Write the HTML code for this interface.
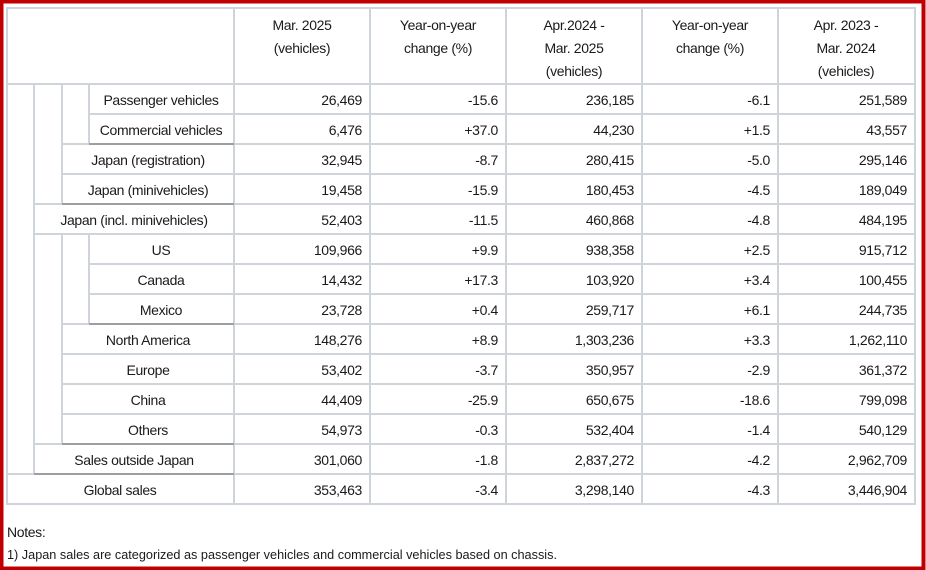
<!DOCTYPE html>
<html><head><meta charset="utf-8"><style>
html,body{margin:0;padding:0;background:#fff}
svg{display:block}
text{font-family:"Liberation Sans",Arial,sans-serif;fill:#1a1a1a;font-size:14px;letter-spacing:-0.35px}
</style></head><body>
<svg width="926" height="570" viewBox="0 0 926 570" xmlns="http://www.w3.org/2000/svg">
<rect x="0" y="0" width="926" height="570" fill="#fff"/>
<g stroke="#cfd3da" stroke-width="2" fill="none">
<rect x="7" y="8" width="908" height="496"/>
<line x1="7" y1="84" x2="915" y2="84"/>
<line x1="234" y1="8" x2="234" y2="504"/>
<line x1="370" y1="8" x2="370" y2="504"/>
<line x1="506" y1="8" x2="506" y2="504"/>
<line x1="642" y1="8" x2="642" y2="504"/>
<line x1="778" y1="8" x2="778" y2="504"/>
<line x1="34" y1="84" x2="34" y2="474"/>
<line x1="62" y1="84" x2="62" y2="204"/>
<line x1="62" y1="234" x2="62" y2="444"/>
<line x1="89" y1="84" x2="89" y2="144"/>
<line x1="89" y1="234" x2="89" y2="324"/>
<line x1="89" y1="114" x2="915" y2="114"/>
<line x1="62" y1="144" x2="915" y2="144"/>
<line x1="62" y1="174" x2="915" y2="174"/>
<line x1="34" y1="204" x2="915" y2="204"/>
<line x1="34" y1="234" x2="915" y2="234"/>
<line x1="89" y1="264" x2="915" y2="264"/>
<line x1="89" y1="294" x2="915" y2="294"/>
<line x1="62" y1="324" x2="915" y2="324"/>
<line x1="62" y1="354" x2="915" y2="354"/>
<line x1="62" y1="384" x2="915" y2="384"/>
<line x1="62" y1="414" x2="915" y2="414"/>
<line x1="34" y1="444" x2="915" y2="444"/>
<line x1="7" y1="474" x2="915" y2="474"/>
</g>
<g stroke="#8c8c8c" stroke-width="1.5">
<line x1="89" y1="144" x2="234" y2="144"/>
<line x1="62" y1="204" x2="234" y2="204"/>
<line x1="89" y1="324" x2="234" y2="324"/>
<line x1="62" y1="444" x2="234" y2="444"/>
<line x1="34" y1="474" x2="234" y2="474"/>
</g>
<g text-anchor="middle">
<text x="302" y="30">Mar. 2025</text><text x="302" y="53">(vehicles)</text>
<text x="438" y="30">Year-on-year</text><text x="438" y="53">change (%)</text>
<text x="574" y="30">Apr.2024 -</text><text x="574" y="53">Mar. 2025</text><text x="574" y="76">(vehicles)</text>
<text x="710" y="30">Year-on-year</text><text x="710" y="53">change (%)</text>
<text x="846" y="30">Apr. 2023 -</text><text x="846" y="53">Mar. 2024</text><text x="846" y="76">(vehicles)</text>
<text x="161" y="105">Passenger vehicles</text>
<text x="161" y="135">Commercial vehicles</text>
<text x="148" y="165">Japan (registration)</text>
<text x="148" y="195">Japan (minivehicles)</text>
<text x="134" y="225">Japan (incl. minivehicles)</text>
<text x="161" y="255">US</text>
<text x="161" y="285">Canada</text>
<text x="161" y="315">Mexico</text>
<text x="148" y="345">North America</text>
<text x="148" y="375">Europe</text>
<text x="148" y="405">China</text>
<text x="148" y="435">Others</text>
<text x="134" y="465">Sales outside Japan</text>
<text x="120" y="495">Global sales</text>
</g>
<g text-anchor="end">
<text x="362" y="105">26,469</text><text x="498" y="105">-15.6</text><text x="634" y="105">236,185</text><text x="770" y="105">-6.1</text><text x="907" y="105">251,589</text>
<text x="362" y="135">6,476</text><text x="498" y="135">+37.0</text><text x="634" y="135">44,230</text><text x="770" y="135">+1.5</text><text x="907" y="135">43,557</text>
<text x="362" y="165">32,945</text><text x="498" y="165">-8.7</text><text x="634" y="165">280,415</text><text x="770" y="165">-5.0</text><text x="907" y="165">295,146</text>
<text x="362" y="195">19,458</text><text x="498" y="195">-15.9</text><text x="634" y="195">180,453</text><text x="770" y="195">-4.5</text><text x="907" y="195">189,049</text>
<text x="362" y="225">52,403</text><text x="498" y="225">-11.5</text><text x="634" y="225">460,868</text><text x="770" y="225">-4.8</text><text x="907" y="225">484,195</text>
<text x="362" y="255">109,966</text><text x="498" y="255">+9.9</text><text x="634" y="255">938,358</text><text x="770" y="255">+2.5</text><text x="907" y="255">915,712</text>
<text x="362" y="285">14,432</text><text x="498" y="285">+17.3</text><text x="634" y="285">103,920</text><text x="770" y="285">+3.4</text><text x="907" y="285">100,455</text>
<text x="362" y="315">23,728</text><text x="498" y="315">+0.4</text><text x="634" y="315">259,717</text><text x="770" y="315">+6.1</text><text x="907" y="315">244,735</text>
<text x="362" y="345">148,276</text><text x="498" y="345">+8.9</text><text x="634" y="345">1,303,236</text><text x="770" y="345">+3.3</text><text x="907" y="345">1,262,110</text>
<text x="362" y="375">53,402</text><text x="498" y="375">-3.7</text><text x="634" y="375">350,957</text><text x="770" y="375">-2.9</text><text x="907" y="375">361,372</text>
<text x="362" y="405">44,409</text><text x="498" y="405">-25.9</text><text x="634" y="405">650,675</text><text x="770" y="405">-18.6</text><text x="907" y="405">799,098</text>
<text x="362" y="435">54,973</text><text x="498" y="435">-0.3</text><text x="634" y="435">532,404</text><text x="770" y="435">-1.4</text><text x="907" y="435">540,129</text>
<text x="362" y="465">301,060</text><text x="498" y="465">-1.8</text><text x="634" y="465">2,837,272</text><text x="770" y="465">-4.2</text><text x="907" y="465">2,962,709</text>
<text x="362" y="495">353,463</text><text x="498" y="495">-3.4</text><text x="634" y="495">3,298,140</text><text x="770" y="495">-4.3</text><text x="907" y="495">3,446,904</text>
</g>
<text x="7" y="537" style="font-size:14px">Notes:</text>
<text x="7" y="559" style="font-size:12.5px;letter-spacing:0" textLength="550" lengthAdjust="spacingAndGlyphs">1) Japan sales are categorized as passenger vehicles and commercial vehicles based on chassis.</text>
<rect x="1.5" y="1.5" width="922" height="567" fill="none" stroke="#c00000" stroke-width="4"/>
</svg>
</body></html>
